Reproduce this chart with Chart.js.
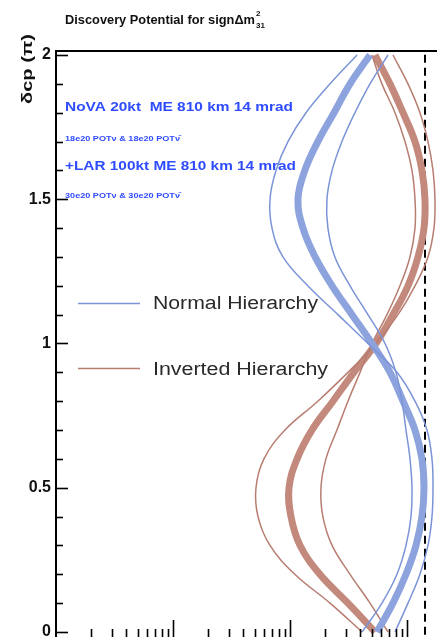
<!DOCTYPE html>
<html>
<head>
<meta charset="utf-8">
<script src="https://cdn.jsdelivr.net/npm/chart.js@4.4.1/dist/chart.umd.min.js"></script>
<style>
html, body { margin: 0; padding: 0; background: #fff; overflow: hidden; width: 437px; height: 637px; }
#wrap { position: absolute; left: 0; top: 0; width: 470px; height: 660px; }
</style>
</head>
<body>
<div id="wrap"><canvas id="discoveryChart" width="470" height="660"></canvas></div>
<script>
// delta_CP in units of pi
var deltaCP = [0.0, 0.1, 0.2, 0.3, 0.4, 0.5, 0.6, 0.7, 0.8, 0.9, 1.0, 1.1, 1.2, 1.3, 1.4, 1.5, 1.6, 1.7, 1.8, 1.9, 2.0];

// normal hierarchy: central (thick) and two outer bands
var nhCentral = [554, 759, 981, 1194, 1343, 1398, 1343, 1171, 925, 716, 502, 339, 229, 164, 129, 117, 134, 173, 238, 326, 483];
var nhOuter   = [790, 1020, 1291, 1512, 1636, 1669, 1636, 1482, 1171, 821, 464, 257, 142, 87.1, 70.2, 67.5, 75.9, 96.1, 137, 220, 374];
var nhInner   = [413, 611, 821, 981, 1082, 1103, 1061, 981, 906, 805, 649, 464, 326, 242, 211, 207, 229, 278, 359, 483, 688];

// inverted hierarchy
var ihCentral = [533, 313, 180, 122, 102, 98.1, 115, 154, 233, 352, 543, 759, 1020, 1242, 1398, 1425, 1343, 1171, 925, 716, 533];
var ihOuter   = [413, 220, 110, 67.5, 53.3, 51.2, 59.9, 90.6, 173, 313, 543, 838, 1171, 1512, 1701, 1735, 1669, 1512, 1291, 1020, 759];
var ihInner   = [688, 483, 326, 229, 191, 184, 203, 252, 313, 397, 502, 675, 871, 1061, 1171, 1171, 1103, 961, 790, 611, 502];

var dashedX = 1425;
var yTickLabels = [0, 0.5, 1, 1.5, 2];
var xDecades = [1, 10, 100, 1000];

var blue = '#8ca3dd';
var blueThin = '#7b94d8';
var red = '#c3897c';
var redThin = '#b77d70';

function toPoints(xs) {
    return xs.map(function(v, i) { return { x: v, y: deltaCP[i] }; });
}

function stretchText(ctx, text, x, y, width) {
    var w = ctx.measureText(text).width;
    ctx.save();
    ctx.translate(x, y);
    ctx.scale(width / w, 1);
    ctx.fillText(text, 0, 0);
    ctx.restore();
}

var decorations = {
    id: 'decorations',
    afterDraw: function(chart) {
        var ctx = chart.ctx;
        var xs = chart.scales.x, ys = chart.scales.y;
        var area = chart.chartArea;
        ctx.save();

        // tick marks drawn inside the frame
        ctx.strokeStyle = '#000';
        ctx.lineWidth = 1.6;
        deltaCP.forEach(function(v) {
            var py = Math.round(ys.getPixelForValue(v)) + 0.5;
            var major = Math.abs(v * 2 - Math.round(v * 2)) < 1e-6;
            ctx.beginPath();
            ctx.moveTo(area.left, py);
            ctx.lineTo(area.left + (major ? 12 : 7), py);
            ctx.stroke();
        });
        xDecades.forEach(function(d) {
            for (var m = 1; m <= 9; m++) {
                var v = d * m;
                if (v <= xs.min || v >= xs.max) continue;
                var px = Math.round(xs.getPixelForValue(v)) + 0.5;
                ctx.beginPath();
                ctx.moveTo(px, area.bottom);
                ctx.lineTo(px, area.bottom - (m === 1 ? 19 : 10));
                ctx.stroke();
            }
        });

        // title
        ctx.fillStyle = '#111';
        ctx.textBaseline = 'middle';
        ctx.textAlign = 'left';
        ctx.font = 'bold 12.5px "Liberation Sans", Arial, sans-serif';
        stretchText(ctx, 'Discovery Potential for sign\u0394m', 65, 21, 190);
        ctx.font = 'bold 8px "Liberation Sans", Arial, sans-serif';
        ctx.fillText('2', 256, 14);
        ctx.fillText('31', 256, 26);

        // y axis title
        ctx.font = 'bold 15px "Liberation Sans", Arial, sans-serif';
        ctx.save();
        ctx.translate(28, 69);
        ctx.rotate(-Math.PI / 2);
        ctx.textAlign = 'left';
        stretchText(ctx, '\u03b4cp (\u03c0)', -35, 0, 70);
        ctx.restore();

        // experiment annotations
        ctx.fillStyle = '#2f4cff';
        ctx.font = 'bold 13.5px "Liberation Sans", Arial, sans-serif';
        stretchText(ctx, 'NoVA 20kt  ME 810 km 14 mrad', 65, 107, 228);
        stretchText(ctx, '+LAR 100kt ME 810 km 14 mrad', 65, 166, 231);
        ctx.font = 'bold 8px "Liberation Sans", Arial, sans-serif';
        stretchText(ctx, '18e20 POT\u03bd & 18e20 POT\u03bd\u0304', 65, 139, 115);
        stretchText(ctx, '30e20 POT\u03bd & 30e20 POT\u03bd\u0304', 65, 196, 115);

        // legend
        ctx.lineWidth = 1.5;
        ctx.strokeStyle = blueThin;
        ctx.beginPath(); ctx.moveTo(78, 303.5); ctx.lineTo(140, 303.5); ctx.stroke();
        ctx.strokeStyle = redThin;
        ctx.beginPath(); ctx.moveTo(78, 368.5); ctx.lineTo(140, 368.5); ctx.stroke();
        ctx.fillStyle = '#2a2a2a';
        ctx.font = '18px "Liberation Sans", Arial, sans-serif';
        stretchText(ctx, 'Normal Hierarchy', 153, 304, 165);
        stretchText(ctx, 'Inverted Hierarchy', 153, 370, 175);

        ctx.restore();
    }
};

var ctx = document.getElementById('discoveryChart').getContext('2d');
var discoveryChart = new Chart(ctx, {
    type: 'scatter',
    data: {
        datasets: [
            { label: 'NH outer', data: toPoints(nhOuter), borderColor: blueThin, borderWidth: 1.5 },
            { label: 'NH inner', data: toPoints(nhInner), borderColor: blueThin, borderWidth: 1.5 },
            { label: 'Normal Hierarchy', data: toPoints(nhCentral), borderColor: blue, borderWidth: 7 },
            { label: 'IH outer', data: toPoints(ihOuter), borderColor: redThin, borderWidth: 1.5 },
            { label: 'IH inner', data: toPoints(ihInner), borderColor: redThin, borderWidth: 1.5 },
            { label: 'Inverted Hierarchy', data: toPoints(ihCentral), borderColor: red, borderWidth: 7 },
            { label: 'limit', data: [{ x: dashedX, y: -0.1 }, { x: dashedX, y: 2.1 }],
              borderColor: '#000', borderWidth: 2, borderDash: [8, 5], tension: 0 }
        ]
    },
    options: {
        responsive: false,
        animation: false,
        devicePixelRatio: 1,
        showLine: true,
        layout: { padding: { left: 0, right: 7.2, top: 0, bottom: 0 } },
        elements: {
            point: { radius: 0, hoverRadius: 0 },
            line: { tension: 0.4, fill: false, capBezierPoints: true }
        },
        plugins: {
            legend: { display: false },
            tooltip: { enabled: false },
            title: { display: false }
        },
        scales: {
            x: {
                type: 'logarithmic',
                position: 'bottom',
                min: 1,
                max: 3000,
                ticks: { display: false },
                grid: { display: false, drawTicks: false },
                border: { display: true, color: '#000', width: 2 },
                afterFit: function(scale) { scale.height = 21; }
            },
            x2: {
                type: 'linear',
                position: 'top',
                display: true,
                ticks: { display: false },
                grid: { display: false, drawTicks: false },
                border: { display: true, color: '#000', width: 2 },
                afterFit: function(scale) { scale.height = 51; }
            },
            y: {
                type: 'linear',
                min: -0.0243,
                max: 2.0139,
                afterBuildTicks: function(scale) {
                    scale.ticks = yTickLabels.map(function(v) { return { value: v }; });
                },
                ticks: {
                    padding: 5,
                    color: '#111',
                    font: { family: '"Liberation Sans", Arial, sans-serif', size: 16, weight: 'bold' },
                    callback: function(v) { return String(v); }
                },
                grid: { display: false, drawTicks: false },
                border: { display: true, color: '#000', width: 2 },
                afterFit: function(scale) { scale.width = 56; }
            }
        }
    },
    plugins: [decorations]
});
</script>
</body>
</html>
